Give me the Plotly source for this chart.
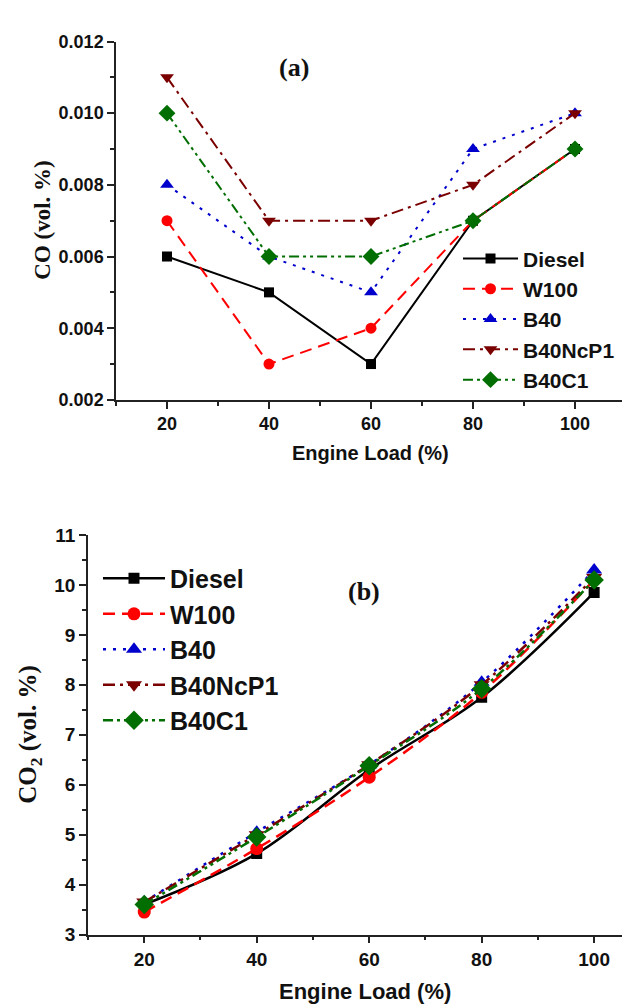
import plotly.graph_objects as go

load = [20, 40, 60, 80, 100]
series_names = ["Diesel", "W100", "B40", "B40NcP1", "B40C1"]

co_diesel = [0.006, 0.005, 0.003, 0.007, 0.009]
co_w100 = [0.007, 0.003, 0.004, 0.007, 0.009]
co_b40 = [0.008, 0.006, 0.005, 0.009, 0.010]
co_b40ncp1 = [0.011, 0.007, 0.007, 0.008, 0.010]
co_b40c1 = [0.010, 0.006, 0.006, 0.007, 0.009]

co2_diesel = [3.60, 4.62, 6.30, 7.75, 9.85]
co2_w100 = [3.45, 4.72, 6.15, 7.85, 10.10]
co2_b40 = [3.65, 5.05, 6.40, 8.05, 10.30]
co2_b40ncp1 = [3.65, 5.00, 6.40, 8.00, 10.15]
co2_b40c1 = [3.60, 4.95, 6.38, 7.92, 10.10]

colors = ["#000000", "#ff0000", "#0000cc", "#7a0000", "#006e00"]
symbols = ["square", "circle", "triangle-up", "triangle-down", "diamond"]
sizes_top = [10, 11, 12, 12, 13]
sizes_bot = [11, 13, 14, 14, 15]
dashes = ["solid", "12px,7px", "3px,7px", "12px,5px,3px,5px", "10px,4px,3px,4px,3px,4px"]

co_data = [co_diesel, co_w100, co_b40, co_b40ncp1, co_b40c1]
co2_data = [co2_diesel, co2_w100, co2_b40, co2_b40ncp1, co2_b40c1]

W, H = 630, 1008
fig = go.Figure()

for i, name in enumerate(series_names):
    fig.add_trace(go.Scatter(
        x=load, y=co_data[i], name=name, mode="lines+markers",
        line=dict(color=colors[i], width=2, dash=dashes[i]),
        marker=dict(symbol=symbols[i], size=sizes_top[i], color=colors[i]),
        xaxis="x", yaxis="y", legend="legend"))

for i, name in enumerate(series_names):
    fig.add_trace(go.Scatter(
        x=load, y=co2_data[i], name=name, mode="lines+markers",
        line=dict(color=colors[i], width=2.5, dash=dashes[i], shape="spline", smoothing=1),
        marker=dict(symbol=symbols[i], size=sizes_bot[i], color=colors[i]),
        xaxis="x2", yaxis="y2", legend="legend2"))

tickfont = dict(family="Liberation Sans, Arial", size=18, color="#111", weight="bold")
axis_common = dict(showline=True, linecolor="#222", linewidth=1.5, ticks="outside",
                   ticklen=7, tickwidth=1.5, tickcolor="#222", showgrid=False,
                   zeroline=False, mirror=False)

def px_x(p):
    return p / W

def px_y(p):
    return 1 - p / H

fig.update_layout(
    width=W, height=H, margin=dict(l=0, r=0, t=0, b=0),
    paper_bgcolor="white", plot_bgcolor="white",
    xaxis=dict(domain=[px_x(108), px_x(618)], range=[10, 110], tick0=0, dtick=20,
               minor=dict(dtick=10, ticklen=4, tickcolor="#222", ticks="outside"),
               tickfont=tickfont, anchor="y", **axis_common),
    yaxis=dict(domain=[px_y(390), px_y(24)], range=[0.002, 0.012], dtick=0.002,
               tickformat=".3f",
               minor=dict(dtick=0.001, ticklen=4, tickcolor="#222", ticks="outside"),
               tickfont=tickfont, anchor="x", **axis_common),
    xaxis2=dict(domain=[px_x(80), 1.0], range=[10, 107.8], tick0=0, dtick=20,
                minor=dict(dtick=10, ticklen=4, tickcolor="#222", ticks="outside"),
                tickfont=dict(family="Liberation Sans, Arial", size=19, color="#111", weight="bold"),
                anchor="y2", **axis_common),
    yaxis2=dict(domain=[px_y(936), px_y(528)], range=[3, 11], dtick=1,
                minor=dict(dtick=0.5, ticklen=4, tickcolor="#222", ticks="outside"),
                tickfont=dict(family="Liberation Sans, Arial", size=19, color="#111", weight="bold"),
                anchor="x2", **axis_common),
    legend=dict(x=px_x(450), y=px_y(225), xanchor="left", yanchor="top",
                font=dict(family="Liberation Sans, Arial", size=21, color="#111", weight="bold"),
                bgcolor="rgba(0,0,0,0)", itemwidth=55, tracegroupgap=0),
    legend2=dict(x=px_x(90), y=px_y(549), xanchor="left", yanchor="top",
                 font=dict(family="Liberation Sans, Arial", size=25, color="#111", weight="bold"),
                 bgcolor="rgba(0,0,0,0)", itemwidth=62, tracegroupgap=0),
    showlegend=True,
)

annots = [
    dict(text="(a)", x=px_x(286), y=px_y(51), font=dict(family="Liberation Serif, Times New Roman", size=26, color="#111", weight="bold")),
    dict(text="(b)", x=px_x(356), y=px_y(586), font=dict(family="Liberation Serif, Times New Roman", size=26, color="#111", weight="bold")),
    dict(text="CO (vol. %)", x=px_x(35), y=px_y(207), textangle=-90,
         font=dict(family="Liberation Serif, Times New Roman", size=23, color="#111", weight="bold")),
    dict(text="CO<sub>2</sub> (vol. %)", x=px_x(22), y=px_y(732), textangle=-90,
         font=dict(family="Liberation Serif, Times New Roman", size=25, color="#111", weight="bold")),
    dict(text="Engine Load (%)", x=px_x(363), y=px_y(444),
         font=dict(family="Liberation Sans, Arial", size=20, color="#111", weight="bold")),
    dict(text="Engine Load (%)", x=px_x(357), y=px_y(994),
         font=dict(family="Liberation Sans, Arial", size=22, color="#111", weight="bold")),
]
for a in annots:
    fig.add_annotation(xref="paper", yref="paper", showarrow=False,
                       xanchor="center", yanchor="middle", **a)

fig.write_html("out.html")
